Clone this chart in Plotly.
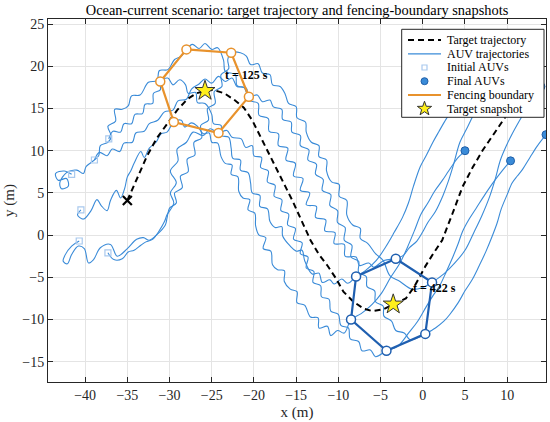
import plotly.graph_objects as go

# target path (m)
target_x = [-35.0, -33.8, -32.7, -31.5, -30.3, -29.1, -27.9, -26.8, -25.8, -24.8, -23.5, -22.3,
            -21.2, -20.2, -19.2, -18.2, -17.3, -16.3, -15.4, -14.4, -13.3, -12.3, -11.3, -10.3,
            -9.4, -8.2, -7.0, -6.0, -4.7, -3.5, -2.0, -1.0, 0.3, 1.3, 2.3, 3.5, 4.7, 5.9, 7.1,
            8.5, 9.8, 10.8]
target_y = [4.1, 6.8, 9.3, 11.5, 13.2, 14.8, 16.1, 16.8, 17.1, 17.2, 16.8, 16.0,
            15.1, 13.6, 11.6, 9.5, 7.8, 5.8, 4.0, 1.8, -0.6, -2.3, -3.6, -5.1,
            -6.7, -7.9, -8.7, -9.0, -8.8, -8.2, -7.5, -6.1, -3.7, -2.1, -0.6, 2.5, 5.7, 8.0, 10.05,
            12.1, 14.0, 15.5]

# AUV trajectories (x, y) in m
auv1 = [(-41.6, 7.2), (-42.5, 7.6), (-43.5, 7.3), (-43.2, 6.5), (-42.2, 6.7), (-42.0, 5.8), (-42.8, 5.5),
        (-43.0, 6.2), (-42.2, 7.4), (-41.0, 7.7), (-40.2, 7.3), (-39.9, 8.1), (-39.3, 8.6), (-38.4, 9.4),
        (-38.2, 10.6), (-37.3, 11.0), (-36.9, 11.7), (-37.3, 12.9), (-36.4, 13.5), (-36.5, 14.9), (-35.6, 14.9),
        (-34.9, 15.3), (-34.5, 16.5), (-33.5, 16.6), (-32.5, 18.1), (-31.5, 18.3), (-31.2, 19.5), (-30.2, 19.6),
        (-29.4, 20.8), (-28.6, 21.2), (-28.0, 22.0), (-27.3, 22.6), (-26.5, 22.1), (-25.8, 22.7), (-25.0, 22.0),
        (-24.3, 22.2), (-23.6, 20.7), (-23.4, 19.4), (-22.2, 19.0), (-22.0, 17.7), (-20.9, 17.4), (-20.6, 16.0),
        (-19.5, 15.6), (-19.4, 14.2), (-18.3, 13.8), (-18.2, 12.3), (-17.1, 12.0), (-17.1, 10.6), (-16.0, 10.3),
        (-16.2, 8.9), (-15.1, 8.5), (-15.3, 7.0), (-14.2, 6.7), (-14.5, 5.3), (-13.4, 5.0), (-13.8, 3.6),
        (-12.6, 3.4), (-12.7, 2.1), (-11.5, 1.8), (-11.6, 0.5), (-10.4, 0.3), (-10.5, -1.0), (-9.3, -1.1),
        (-9.2, -2.5), (-7.9, -2.6), (-7.5, -3.6), (-6.4, -3.3), (-5.8, -3.8), (-4.6, -3.0), (-3.2, -2.8),
        (-2.3, -2.4), (-1.6, -1.5), (-0.7, -0.7), (0.0, 0.4), (0.6, 1.5), (1.5, 2.8), (2.4, 4.7), (3.0, 6.3),
        (3.6, 8.2), (4.4, 11.0), (5.2, 12.6), (6.5, 15.25), (7.6, 17.2), (9.0, 19.2)]
auv2 = [(-40.7, -0.7), (-41.6, -1.3), (-42.4, -2.4), (-42.6, -3.1), (-42.1, -3.4), (-41.6, -2.3), (-40.8, -1.3),
        (-40.1, -1.6), (-39.6, -3.3), (-39.0, -2.9), (-38.2, -1.5), (-37.0, -1.1), (-36.2, -2.5), (-35.0, -1.6),
        (-33.9, -0.5), (-33.1, -0.3), (-32.4, -0.6), (-31.5, 0.05), (-30.5, 1.2), (-30.3, 2.0), (-30.0, 3.2),
        (-29.2, 3.8), (-29.4, 5.0), (-28.5, 5.6), (-28.7, 7.0), (-27.8, 7.5), (-27.9, 9.0), (-27.0, 9.5),
        (-27.1, 11.0), (-26.2, 11.5), (-26.3, 13.0), (-25.4, 13.6), (-25.5, 15.0), (-24.6, 15.6), (-24.7, 17.0),
        (-23.8, 17.6), (-23.9, 19.0), (-23.0, 19.7), (-23.1, 20.8), (-22.7, 21.6), (-21.6, 21.6), (-20.9, 21.2),
        (-20.4, 20.2), (-19.5, 20.3), (-19.0, 19.2), (-18.1, 19.0), (-17.8, 17.8), (-16.9, 17.6), (-16.3, 16.7),
        (-15.9, 15.6), (-15.0, 15.2), (-14.9, 13.9), (-13.9, 13.4), (-13.8, 12.2), (-13.2, 11.0), (-12.3, 10.6),
        (-12.3, 9.3), (-11.4, 8.9), (-11.4, 7.6), (-10.8, 6.3), (-9.9, 6.0), (-9.9, 4.6), (-9.0, 4.1),
        (-9.0, 2.4), (-8.3, 1.2), (-7.4, 0.8), (-7.4, -0.4), (-6.5, -1.0), (-5.6, -2.2), (-4.7, -3.0),
        (-3.9, -4.8), (-2.7, -5.5), (-1.3, -6.4), (0.0, -6.2), (1.1, -5.6), (2.5, -4.6), (3.8, -3.3),
        (5.0, -1.8), (6.0, 0.2), (7.0, 2.3), (7.9, 4.5), (8.6, 6.7), (9.2, 8.9), (10.0, 10.8), (10.6, 12.0),
        (11.4, 13.45), (12.3, 15.0), (13.1, 16.3), (14.0, 17.6)]
auv3 = [(-38.9, 8.9), (-38.3, 9.8), (-37.4, 9.4), (-36.8, 10.2), (-35.9, 9.9), (-35.4, 10.9), (-34.4, 11.0),
        (-34.0, 12.1), (-33.0, 12.3), (-32.4, 13.2), (-31.4, 13.6), (-30.6, 14.6), (-29.6, 14.8), (-29.0, 15.9),
        (-28.0, 16.1), (-27.4, 17.3), (-26.5, 17.9), (-25.8, 18.5), (-25.0, 18.0), (-24.2, 18.8), (-23.4, 18.2),
        (-22.6, 18.6), (-22.0, 17.6), (-21.2, 17.5), (-20.6, 16.4), (-19.6, 16.6), (-19.0, 15.8), (-18.1, 16.0),
        (-17.7, 15.2), (-16.7, 14.9), (-16.6, 13.7), (-15.6, 13.4), (-15.5, 12.2), (-14.5, 11.8), (-14.5, 10.6),
        (-13.5, 10.1), (-13.6, 8.9), (-12.6, 8.4), (-12.7, 7.2), (-11.8, 6.6), (-11.9, 5.3), (-10.9, 4.8),
        (-11.0, 3.5), (-10.1, 2.9), (-10.1, 1.5), (-9.2, 0.9), (-9.3, -0.6), (-8.4, -1.2), (-8.5, -2.6),
        (-7.6, -3.1), (-7.6, -4.4), (-6.7, -4.9), (-6.6, -6.1), (-5.7, -6.6), (-5.6, -7.9), (-4.7, -8.4),
        (-4.6, -9.6), (-3.7, -10.2), (-3.2, -11.3), (-2.2, -11.6), (-1.5, -12.4), (-0.5, -12.1), (0.3, -11.7),
        (1.5, -11.0), (2.5, -10.2), (3.2, -9.4), (4.2, -8.0), (5.0, -6.6), (5.9, -5.2), (6.7, -3.6),
        (7.5, -1.9), (8.2, -0.2), (8.8, 1.4), (9.3, 3.1), (10.0, 4.8), (10.6, 6.2), (11.2, 7.0), (11.8, 7.75),
        (12.7, 9.2), (13.6, 10.6), (14.6, 11.9)]
auv4 = [(-37.3, -2.1), (-36.6, -2.9), (-35.6, -2.8), (-34.9, -2.0), (-34.2, -1.8), (-33.4, -1.2), (-32.8, -0.8),
        (-32.0, -0.5), (-31.3, 0.4), (-30.6, 1.6), (-30.3, 2.4), (-29.5, 3.8), (-29.9, 5.0), (-29.2, 6.2),
        (-29.9, 7.6), (-29.0, 8.8), (-29.1, 10.2), (-28.0, 11.0), (-27.2, 12.2), (-26.0, 11.8), (-25.2, 12.6),
        (-24.2, 12.1), (-23.2, 12.4), (-22.6, 11.6), (-21.5, 11.4), (-21.0, 10.4), (-20.2, 10.6), (-20.0, 9.4),
        (-19.1, 9.2), (-19.2, 8.0), (-18.3, 7.6), (-18.4, 6.3), (-17.5, 5.9), (-17.6, 4.6), (-16.7, 4.2),
        (-16.8, 2.9), (-15.9, 2.5), (-16.0, 1.2), (-15.1, 0.8), (-15.3, -0.5), (-14.3, -0.9), (-14.5, -2.2),
        (-13.6, -2.6), (-13.8, -3.9), (-12.9, -4.3), (-13.0, -5.6), (-12.1, -6.0), (-12.0, -7.3), (-11.1, -7.6),
        (-10.9, -9.0), (-10.0, -9.4), (-9.7, -10.7), (-8.8, -11.0), (-8.6, -12.3), (-7.6, -12.6), (-7.2, -13.7),
        (-6.2, -13.6), (-5.6, -14.4), (-4.3, -13.7), (-3.0, -13.2), (-1.6, -11.5), (-0.6, -10.2), (0.4, -8.5),
        (1.2, -7.2), (2.0, -6.0), (2.8, -4.3), (3.6, -2.5), (4.2, -1.0), (4.7, 0.4), (5.5, 1.9), (6.4, 3.3),
        (7.4, 4.85), (8.4, 6.3), (9.4, 7.6), (10.4, 8.8)]
auv5 = [(-40.5, 3.0), (-40.9, 2.4), (-40.2, 1.9), (-39.3, 2.9), (-38.6, 4.2), (-38.1, 3.5), (-37.4, 2.9),
        (-37.0, 4.1), (-36.3, 5.3), (-35.8, 4.4), (-35.3, 5.6), (-35.0, 6.9), (-34.6, 7.6), (-34.2, 8.5),
        (-33.4, 9.9), (-33.0, 9.2), (-32.4, 10.3), (-31.6, 11.0), (-31.0, 12.0), (-30.3, 12.2), (-29.5, 13.4),
        (-28.6, 13.6), (-28.2, 12.8), (-27.4, 13.3), (-26.7, 12.9), (-26.0, 12.0), (-25.3, 12.1), (-25.0, 11.0),
        (-24.3, 10.9), (-23.9, 9.3), (-23.4, 8.5), (-22.6, 8.3), (-22.7, 7.2), (-21.9, 6.9), (-21.8, 5.2),
        (-21.3, 4.4), (-20.5, 4.2), (-20.7, 3.0), (-19.9, 2.6), (-19.8, 1.1), (-19.4, 0.0), (-18.6, -0.3),
        (-18.9, -1.6), (-18.0, -1.9), (-17.8, -3.5), (-17.2, -4.1), (-16.4, -4.2), (-16.4, -5.5), (-15.7, -6.4),
        (-14.9, -6.7), (-14.9, -8.0), (-14.0, -8.3), (-13.3, -9.7), (-12.4, -9.8), (-12.3, -11.0), (-11.3, -10.8),
        (-10.9, -11.9), (-10.1, -11.3), (-9.3, -11.6), (-8.5, -10.0), (-7.3, -9.3), (-6.0, -8.2), (-4.9, -6.9),
        (-3.8, -5.0), (-2.7, -3.3), (-1.8, -1.4), (-1.0, 0.5), (-0.2, 2.5), (0.6, 3.8), (1.4, 5.2), (2.3, 6.45),
        (3.0, 7.5), (3.6, 8.4), (4.2, 9.2), (4.6, 9.6), (5.0, 10.0)]
auv6 = [(-37.2, 11.4), (-36.7, 12.3), (-35.8, 12.2), (-35.4, 13.2), (-34.5, 13.2), (-34.1, 14.3), (-33.2, 14.4),
        (-32.9, 15.5), (-32.0, 15.6), (-31.9, 16.8), (-31.1, 17.2), (-31.1, 18.2), (-30.2, 18.6), (-29.6, 17.8),
        (-28.8, 18.4), (-28.1, 17.8), (-27.8, 16.8), (-26.9, 16.9), (-26.7, 15.7), (-25.8, 15.6), (-25.0, 14.3),
        (-24.8, 13.2), (-23.9, 13.0), (-23.9, 11.8), (-23.0, 11.6), (-22.7, 10.3), (-22.5, 9.1), (-21.6, 8.9),
        (-21.6, 7.7), (-20.7, 7.4), (-20.4, 6.2), (-20.2, 5.0), (-19.3, 4.7), (-19.3, 3.4), (-18.4, 3.1),
        (-18.1, 1.6), (-17.5, 0.9), (-16.7, 1.0), (-16.6, -0.1), (-15.7, -1.3), (-15.0, -1.9), (-14.3, -1.8),
        (-14.0, -3.0), (-13.1, -4.6), (-12.3, -4.5), (-11.9, -5.6), (-11.0, -5.3), (-10.5, -5.8), (-9.6, -5.2),
        (-8.9, -5.7), (-7.9, -4.9), (-6.8, -4.2), (-5.5, -3.0), (-4.4, -1.4), (-3.4, 0.3), (-2.4, 2.1),
        (-1.7, 3.8), (-1.1, 5.8), (-0.3, 8.1), (0.5, 9.6), (1.2, 11.0), (1.9, 12.25), (2.8, 13.8), (3.6, 15.0),
        (4.4, 16.1)]
auv_paths = [auv1, auv2, auv3, auv4, auv5, auv6]

init_x = [-41.6, -40.7, -38.9, -37.3, -40.5, -37.2]
init_y = [7.2, -0.7, 8.9, -2.1, 3.0, 11.4]
final_x = [9.0, 14.0, 14.6, 10.4, 5.0, 4.4]
final_y = [19.2, 17.6, 11.9, 8.8, 10.0, 16.1]

# fencing boundary snapshots
fence125_x = [-28.0, -22.7, -20.6, -24.2, -29.5, -31.1]
fence125_y = [22.0, 21.6, 16.4, 12.1, 13.4, 18.2]
fence422_x = [-3.2, 1.1, 0.3, -4.3, -8.5, -7.9]
fence422_y = [-2.8, -5.6, -11.7, -13.7, -10.0, -4.9]
snap_x = [-25.8, -3.5]
snap_y = [17.1, -8.2]
snap_labels = ["t = 125 s", "t = 422 s"]

legend_labels = ["Target trajectory", "AUV trajectories", "Initial AUVs",
                 "Final AUVs", "Fencing boundary", "Target snapshot"]

FONT = "Liberation Serif"
AUV_BLUE = "#3a8bd8"
ORANGE = "#e8922c"
DARK_BLUE = "#1f5fb0"

fig = go.Figure()

for path in auv_paths:
    fig.add_trace(go.Scatter(
        x=[p[0] for p in path], y=[p[1] for p in path],
        mode="lines", line=dict(color=AUV_BLUE, width=1.1, shape="spline", smoothing=1.0),
        hoverinfo="skip"))

fig.add_trace(go.Scatter(x=target_x, y=target_y, mode="lines",
                         line=dict(color="black", width=2, dash="6px,4px")))
fig.add_trace(go.Scatter(x=target_x[:1], y=target_y[:1], mode="markers",
                         marker=dict(symbol="x-thin", size=9, line=dict(color="black", width=2.2))))

fig.add_trace(go.Scatter(x=init_x, y=init_y, mode="markers",
                         marker=dict(symbol="square-open", size=6, color="#a9c9ee", line=dict(width=1.2))))
fig.add_trace(go.Scatter(x=final_x, y=final_y, mode="markers",
                         marker=dict(symbol="circle", size=8, color=AUV_BLUE,
                                     line=dict(color="#1f5fa8", width=1))))

for fx, fy, col in [(fence125_x, fence125_y, ORANGE), (fence422_x, fence422_y, DARK_BLUE)]:
    fig.add_trace(go.Scatter(x=fx + fx[:1], y=fy + fy[:1], mode="lines",
                             line=dict(color=col, width=2.2)))
    fig.add_trace(go.Scatter(x=fx, y=fy, mode="markers",
                             marker=dict(symbol="circle", size=9, color="white",
                                         line=dict(color=col, width=1.5))))

fig.add_trace(go.Scatter(x=snap_x, y=snap_y, mode="markers",
                         marker=dict(symbol="star", size=15, color="#ffef1a",
                                     line=dict(color="#333333", width=1))))

for sx, sy, lab in zip(snap_x, snap_y, snap_labels):
    fig.add_annotation(x=sx + 2.1, y=sy + 1.9, text="<b>" + lab + "</b>", showarrow=False,
                       xanchor="left", yanchor="middle",
                       font=dict(family=FONT, size=12, color="black"))

# legend box drawn by hand (MATLAB-like compact rows)
L, R, T, B = 48, 546, 19, 382


def px(xp):
    return (xp - L) / (R - L)


def py(yp):
    return (B - yp) / (B - T)


rows = [40.0, 53.8, 67.5, 81.2, 95.0, 108.7]
sx0, sx1, sxc, tx = px(408), px(441), px(424.5), px(445)
shapes = [dict(type="rect", xref="paper", yref="paper", x0=px(401.7), x1=px(544),
               y0=py(117.3), y1=py(29.3), fillcolor="white",
               line=dict(color="#262626", width=1), layer="above")]
shapes.append(dict(type="line", xref="paper", yref="paper", x0=sx0, x1=sx1, y0=py(rows[0]), y1=py(rows[0]),
                   line=dict(color="black", width=2, dash="6px,4px"), layer="above"))
shapes.append(dict(type="line", xref="paper", yref="paper", x0=sx0, x1=sx1, y0=py(rows[1]), y1=py(rows[1]),
                   line=dict(color=AUV_BLUE, width=1.2), layer="above"))
shapes.append(dict(type="rect", xref="paper", yref="paper", xsizemode="pixel", ysizemode="pixel",
                   xanchor=sxc, yanchor=py(rows[2]), x0=-2.5, x1=2.5, y0=-2.5, y1=2.5,
                   line=dict(color="#a9c9ee", width=1.2), layer="above"))
shapes.append(dict(type="circle", xref="paper", yref="paper", xsizemode="pixel", ysizemode="pixel",
                   xanchor=sxc, yanchor=py(rows[3]), x0=-3.5, x1=3.5, y0=-3.5, y1=3.5,
                   fillcolor=AUV_BLUE, line=dict(color="#1f5fa8", width=1), layer="above"))
shapes.append(dict(type="line", xref="paper", yref="paper", x0=sx0, x1=sx1, y0=py(rows[4]), y1=py(rows[4]),
                   line=dict(color=ORANGE, width=2.2), layer="above"))
shapes.append(dict(type="path", xref="paper", yref="paper", xsizemode="pixel", ysizemode="pixel",
                   xanchor=sxc, yanchor=py(rows[5]),
                   path="M0,7.5 L1.76,2.43 L7.13,2.32 L2.85,-0.93 L4.41,-6.07 L0,-3 L-4.41,-6.07 "
                        "L-2.85,-0.93 L-7.13,2.32 L-1.76,2.43 Z",
                   fillcolor="#ffef1a", line=dict(color="#333333", width=1), layer="above"))

for yr, lab in zip(rows, legend_labels):
    fig.add_annotation(xref="paper", yref="paper", x=tx, y=py(yr), text=lab, showarrow=False,
                       xanchor="left", yanchor="middle",
                       font=dict(family=FONT, size=12, color="black"))

axis_style = dict(
    showline=True, linecolor="#262626", linewidth=1, mirror="ticks",
    ticks="inside", ticklen=5, tickcolor="#262626", automargin=False,
    showgrid=True, gridcolor="#e4e4e4", gridwidth=1, zeroline=False,
    tickfont=dict(family=FONT, size=14, color="#262626"),
)

fig.update_xaxes(range=[-44.4, 14.6], tickvals=[-40, -35, -30, -25, -20, -15, -10, -5, 0, 5, 10],
                 title=dict(text="x (m)", font=dict(family=FONT, size=15, color="#262626"), standoff=4),
                 **axis_style)
fig.update_yaxes(range=[-17.4, 25.6], tickvals=[-15, -10, -5, 0, 5, 10, 15, 20, 25],
                 title=dict(text="y (m)", font=dict(family=FONT, size=15, color="#262626"), standoff=4),
                 **axis_style)

fig.update_layout(
    width=550, height=422,
    margin=dict(l=L, r=550 - R, t=T, b=422 - B),
    paper_bgcolor="white", plot_bgcolor="white",
    title=dict(text="Ocean-current scenario: target trajectory and fencing-boundary snapshots",
               font=dict(family=FONT, size=14.4, color="black"),
               x=0.5, xanchor="center", xref="paper", y=1 - 9.5 / 422, yanchor="middle", yref="container"),
    shapes=shapes,
    showlegend=False,
)

fig.write_html("out.html", config={"displayModeBar": False},
               post_script="document.body.style.margin='0';")
